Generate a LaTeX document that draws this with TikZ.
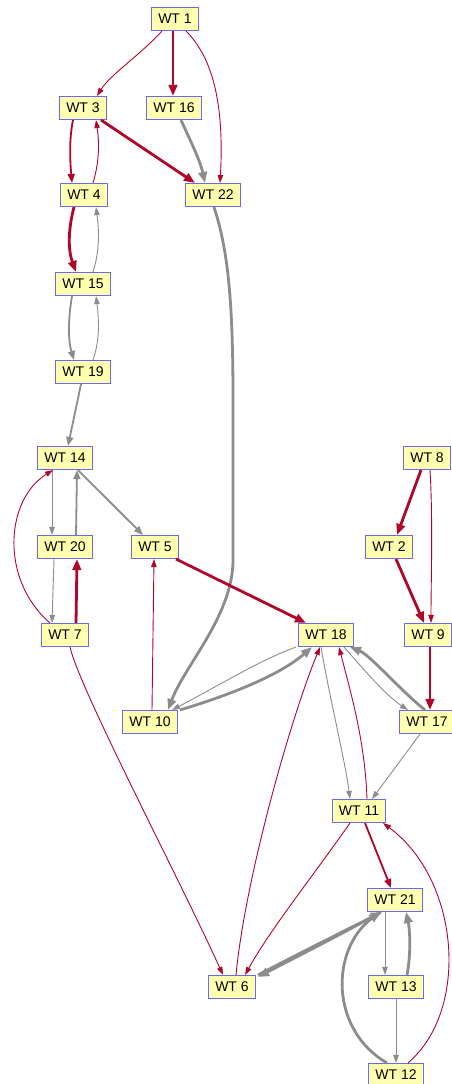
\documentclass[tikz,border=0pt]{standalone}
\usepackage{fontspec}
\setmainfont{Liberation Sans}
\usetikzlibrary{arrows.meta}
\definecolor{boxfill}{HTML}{FFFFB0}
\definecolor{boxline}{HTML}{6A6AF0}
\definecolor{rededge}{HTML}{B0062A}
\definecolor{grayedge}{HTML}{8C8C8C}
\tikzset{
  wt/.style={rectangle, draw=boxline, line width=1.1pt, fill=boxfill,
    inner xsep=6.5pt, inner ysep=0pt, minimum height=23pt,
    font=\fontsize{14}{14}\selectfont},
  tipS/.style={-{Triangle[length=8pt,width=5.5pt]}},
  tipM/.style={-{Triangle[length=9pt,width=7pt]}},
  tipL/.style={-{Triangle[length=11pt,width=8.5pt]}},
  rthin/.style={draw=rededge, line width=0.9pt, tipS},
  rmid/.style={draw=rededge, line width=1.8pt, tipM},
  rthick/.style={draw=rededge, line width=2.8pt, tipL},
  gthin/.style={draw=grayedge, line width=0.9pt, tipS},
  gmid/.style={draw=grayedge, line width=1.8pt, tipM},
  gthick/.style={draw=grayedge, line width=2.8pt, tipL},
}
\begin{document}
\begin{tikzpicture}[x=1pt,y=-1pt]
\useasboundingbox (0,0) rectangle (452,1084);

% nodes
\node[wt] (n1)  at (175,19)   {WT 1};
\node[wt] (n3)  at (83,108)   {WT 3};
\node[wt] (n16) at (174,108)  {WT 16};
\node[wt] (n4)  at (84,195)   {WT 4};
\node[wt] (n22) at (213,195)  {WT 22};
\node[wt] (n15) at (83,284)   {WT 15};
\node[wt] (n19) at (83,372)   {WT 19};
\node[wt] (n14) at (65,458)   {WT 14};
\node[wt] (n8)  at (427,458)  {WT 8};
\node[wt] (n20) at (65,547)   {WT 20};
\node[wt] (n5)  at (155,547)  {WT 5};
\node[wt] (n2)  at (389,547)  {WT 2};
\node[wt] (n7)  at (65,635)   {WT 7};
\node[wt] (n18) at (326,635)  {WT 18};
\node[wt] (n9)  at (428,635)  {WT 9};
\node[wt] (n10) at (150,722)  {WT 10};
\node[wt] (n17) at (427,722)  {WT 17};
\node[wt] (n11) at (359,811)  {WT 11};
\node[wt] (n21) at (395,900)  {WT 21};
\node[wt] (n6)  at (232,987)  {WT 6};
\node[wt] (n13) at (396,987)  {WT 13};
\node[wt] (n12) at (396,1075) {WT 12};

% upper chain
\draw[rthin]  ([xshift=-13pt]n1.south) .. controls (140,55) and (110,75) .. ([xshift=14pt]n3.north);
\draw[rthick] ([xshift=-2pt]n1.south) -- ([xshift=-1pt]n16.north);
\draw[rthin]  ([xshift=11pt]n1.south) .. controls (215,60) and (224,110) .. ([xshift=7pt]n22.north);
\draw[rmid]   ([xshift=-10pt]n3.south) .. controls (69,140) and (70,160) .. ([xshift=-12pt]n4.north);
\draw[rthin]  ([xshift=9pt]n4.north) .. controls (100,160) and (99,140) .. ([xshift=13pt]n3.south);
\draw[rthick] ([xshift=18pt]n3.south) -- ([xshift=-18pt]n22.north);
\draw[gthick] ([xshift=7pt]n16.south) .. controls (190,140) and (200,160) .. ([xshift=-8pt]n22.north);
\draw[rthick] ([xshift=-10pt]n4.south) .. controls (68,230) and (68,250) .. ([xshift=-7pt]n15.north);
\draw[gthin]  ([xshift=10pt]n15.north) .. controls (100,250) and (99,230) .. ([xshift=12pt]n4.south);
\draw[gmid]   ([xshift=-11pt]n15.south) .. controls (68,320) and (68,340) .. ([xshift=-9pt]n19.north);
\draw[gthin]  ([xshift=10pt]n19.north) .. controls (100,340) and (99,320) .. ([xshift=13pt]n15.south);
\draw[gmid]   ([xshift=-2pt]n19.south) -- ([xshift=3pt]n14.north);

% long grey connector
\draw[gthick] ([xshift=1pt]n22.south) .. controls (228,250) and (233,300) .. (233,400)
  -- (233,560) .. controls (233,615) and (185,665) .. ([xshift=18pt]n10.north);

% left cluster
\draw[gthin]  ([xshift=-13pt]n14.south) -- ([xshift=-13pt]n20.north);
\draw[gmid]   ([xshift=11pt]n20.north) -- ([xshift=12pt]n14.south);
\draw[gmid]   ([xshift=13pt]n14.south) -- ([xshift=-12pt]n5.north);
\draw[rthin]  ([xshift=-15pt]n7.north) .. controls (0,580) and (5,500) .. ([xshift=-12pt]n14.south);
\draw[gthin]  ([xshift=-11pt]n20.south) -- ([xshift=-13pt]n7.north);
\draw[rthick] ([xshift=11pt]n7.north) -- ([xshift=12pt]n20.south);
\draw[rthick] ([xshift=21pt]n5.south) -- ([xshift=-20pt]n18.north);
\draw[rthin]  ([xshift=2pt]n10.north) -- ([xshift=-1pt]n5.south);
\draw[rthin]  ([xshift=5pt]n7.south) .. controls (80,690) and (180,880) .. ([xshift=-9pt]n6.north);

% right cluster
\draw[rthick] ([xshift=-6pt]n8.south) -- ([xshift=8pt]n2.north);
\draw[rthin]  ([xshift=3pt]n8.south) .. controls (433,520) and (431,580) .. ([xshift=3pt]n9.north);
\draw[rthick] ([xshift=7pt]n2.south) -- ([xshift=-4pt]n9.north);
\draw[rthick] ([xshift=2pt]n9.south) -- ([xshift=3pt]n17.north);

% around WT 18
\draw[gthin]  ([xshift=-30pt]n18.south) .. controls (260,660) and (220,685) .. ([xshift=22pt]n10.north);
\draw[gthick] ([xshift=30pt]n10.north) .. controls (230,695) and (280,675) .. ([xshift=-14pt]n18.south);
\draw[gthick] ([xshift=-2pt]n17.north) .. controls (400,690) and (370,655) .. ([xshift=24pt]n18.south);
\draw[gthin]  ([xshift=18pt]n18.south) .. controls (360,665) and (385,695) .. ([xshift=-19pt]n17.north);
\draw[gthin]  ([xshift=-5pt]n18.south) .. controls (330,700) and (345,760) .. ([xshift=-9pt]n11.north);
\draw[rthin]  ([xshift=8pt]n11.north) .. controls (365,740) and (350,690) .. ([xshift=13pt]n18.south);
\draw[rthin]  ([xshift=4pt]n6.north) .. controls (245,880) and (290,720) .. ([xshift=-6pt]n18.south);
\draw[gthin]  ([xshift=-7pt]n17.south) -- ([xshift=13pt]n11.north);

% lower cluster
\draw[rthin]  ([xshift=-9pt]n11.south) .. controls (310,880) and (270,930) .. ([xshift=13pt]n6.north);
\draw[rmid]   ([xshift=6pt]n11.south) -- ([xshift=-4pt]n21.north);
\draw[rthin]  ([xshift=12pt]n12.north) .. controls (470,1010) and (460,880) .. ([xshift=24pt]n11.south);
\draw[gthick] ([xshift=-14pt]n21.south) .. controls (340,935) and (300,955) .. ([xshift=26pt,yshift=-2pt]n6.north);
\draw[gthick] ([xshift=26pt]n6.north) .. controls (300,953) and (340,933) .. ([xshift=-13pt]n21.south);
\draw[gthin]  ([xshift=-10pt]n21.south) -- ([xshift=-11pt]n13.north);
\draw[gthick] ([xshift=11pt]n13.north) .. controls (411,955) and (410,930) .. ([xshift=11pt]n21.south);
\draw[gthin]  (n13.south) -- (n12.north);
\draw[gthick] ([xshift=-9pt]n12.north) .. controls (330,1030) and (330,950) .. ([xshift=-15pt]n21.south);
\end{tikzpicture}
\end{document}
